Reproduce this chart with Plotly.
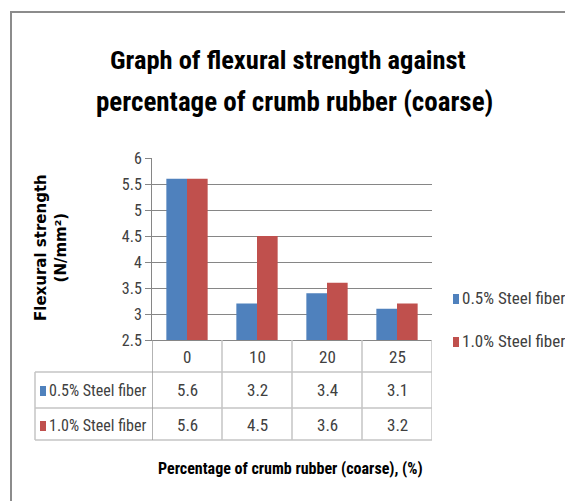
import plotly.graph_objects as go

categories = ["0", "10", "20", "25"]
series_names = ["0.5% Steel fiber", "1.0% Steel fiber"]
steel_05 = [5.6, 3.2, 3.4, 3.1]
steel_10 = [5.6, 4.5, 3.6, 3.2]
colors = ["#4F81BD", "#C0504D"]
y_ticks = [2.5, 3, 3.5, 4, 4.5, 5, 5.5, 6]
y_tick_labels = ["2.5", "3", "3.5", "4", "4.5", "5", "5.5", "6"]

W, H = 565, 501
L, R, T, B = 152, 432, 158, 340  # plot area pixels


def px(X):
    return (X - L) / (R - L)


def py(Y):
    return (B - Y) / (B - T)


FONT = "Roboto Condensed, Liberation Sans, sans-serif"
fig = go.Figure()
for name, vals, c in zip(series_names, [steel_05, steel_10], colors):
    fig.add_trace(go.Bar(x=categories, y=vals, name=name, marker_color=c,
                         marker_line_width=0, showlegend=False))

shapes = []
ann = []
line_gray = "#C4C4C4"
# outer border
shapes.append(dict(type="rect", xref="paper", yref="paper", x0=px(11), x1=px(580),
                   y0=py(520), y1=py(12), line=dict(color="#8C8C8C", width=2)))
# table horizontal lines
for Y in [372, 408, 440]:
    shapes.append(dict(type="line", xref="paper", yref="paper", x0=px(35), x1=px(432),
                       y0=py(Y), y1=py(Y), line=dict(color=line_gray, width=1.5)))
# table vertical lines
shapes.append(dict(type="line", xref="paper", yref="paper", x0=px(35), x1=px(35),
                   y0=py(372), y1=py(440), line=dict(color=line_gray, width=1.5)))
for i in range(len(categories) + 1):
    xv = i - 0.5
    shapes.append(dict(type="line", xref="x", yref="paper", x0=xv, x1=xv,
                       y0=py(340), y1=py(440),
                       line=dict(color="#9A9A9A" if i == 0 else line_gray, width=1.5)))

# header row
for i, cat in enumerate(categories):
    ann.append(dict(x=i, y=py(357), xref="x", yref="paper", text=cat, showarrow=False,
                    xanchor="center", yanchor="middle",
                    font=dict(family=FONT, size=17, color="#404040")))
# data rows
row_y = [390, 425]
for r, (name, vals, c) in enumerate(zip(series_names, [steel_05, steel_10], colors)):
    Y = row_y[r]
    shapes.append(dict(type="rect", xref="paper", yref="paper", x0=px(40), x1=px(46),
                       y0=py(Y + 6), y1=py(Y - 4), fillcolor=c, line=dict(width=0)))
    ann.append(dict(x=px(47), y=py(Y), xref="paper", yref="paper", text=name,
                    showarrow=False, xanchor="left", yanchor="middle",
                    font=dict(family=FONT, size=16, color="#404040")))
    for i, v in enumerate(vals):
        ann.append(dict(x=i, y=py(Y), xref="x", yref="paper", text=f"{v}",
                        showarrow=False, xanchor="center", yanchor="middle",
                        font=dict(family=FONT, size=17, color="#404040")))

# legend
leg_y = [298, 341]
for name, c, Y in zip(series_names, colors, leg_y):
    shapes.append(dict(type="rect", xref="paper", yref="paper", x0=px(453), x1=px(459),
                       y0=py(Y + 6), y1=py(Y - 4), fillcolor=c, line=dict(width=0)))
    ann.append(dict(x=px(460), y=py(Y), xref="paper", yref="paper", text=name,
                    showarrow=False, xanchor="left", yanchor="middle",
                    font=dict(family=FONT, size=17, color="#404040")))

# titles
ann.append(dict(x=px(288), y=py(60), xref="paper", yref="paper", xanchor="center",
                yanchor="middle",
                text="<b>Graph of flexural strength against</b>", showarrow=False,
                font=dict(family=FONT, size=26.5, color="#000000")))
ann.append(dict(x=px(294), y=py(102), xref="paper", yref="paper", xanchor="center",
                yanchor="middle",
                text="<b>percentage of crumb rubber (coarse)</b>", showarrow=False,
                font=dict(family=FONT, size=27, color="#000000")))
ann.append(dict(x=px(290), y=py(468), xref="paper", yref="paper", xanchor="center",
                yanchor="middle",
                text="<b>Percentage of crumb rubber (coarse), (%)</b>", showarrow=False,
                font=dict(family=FONT, size=16, color="#000000")))
ann.append(dict(x=px(51), y=py(248), xref="paper", yref="paper", xanchor="center",
                yanchor="middle",
                text="<b>Flexural strength<br>(N/mm²)</b>", showarrow=False, textangle=-90,
                font=dict(family="DejaVu Sans", size=15, color="#000000")))

fig.update_layout(
    width=W, height=H,
    margin=dict(l=L, r=W - R, t=T, b=H - B),
    paper_bgcolor="white", plot_bgcolor="white",
    barmode="group", bargap=0.41, bargroupgap=0,
    shapes=shapes, annotations=ann, showlegend=False,
    xaxis=dict(type="category", range=[-0.5, 3.5], showticklabels=False, showgrid=False,
               showline=True, linecolor="#868686", ticks="", zeroline=False),
    yaxis=dict(range=[2.5, 6], tickvals=y_ticks, ticktext=y_tick_labels, showgrid=True,
               gridcolor="#868686", gridwidth=1, showline=True, linecolor="#868686",
               ticks="outside", ticklen=6, tickcolor="#868686", zeroline=False,
               tickfont=dict(family=FONT, size=16, color="#404040")),
)

fig.write_html("out.html", config={"displayModeBar": False},
               post_script="document.body.style.margin='0';")
